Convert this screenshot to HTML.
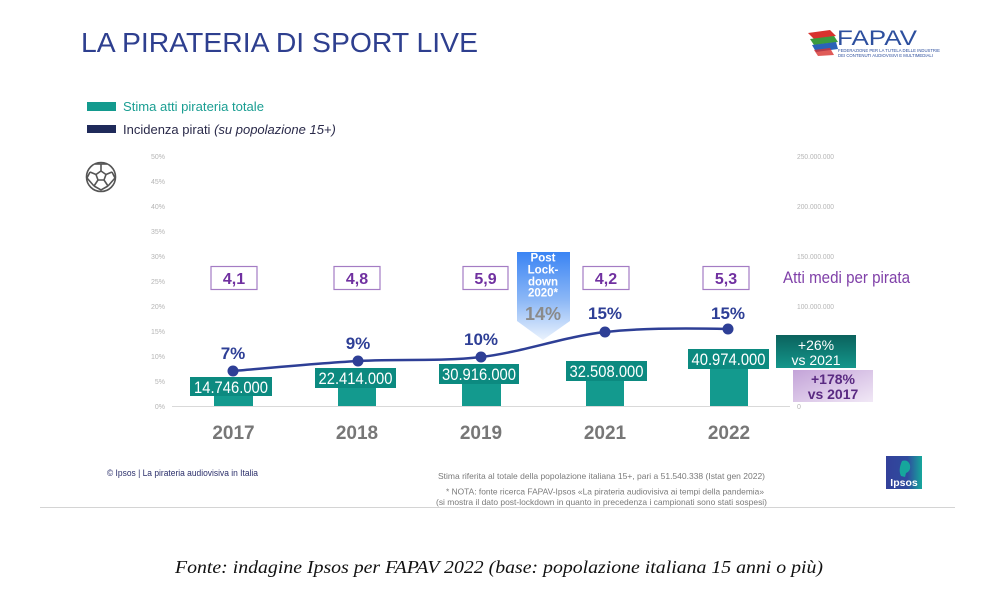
<!DOCTYPE html>
<html><head><meta charset="utf-8"><style>
html,body{margin:0;padding:0;background:#fff;}
svg{display:block;font-family:"Liberation Sans",Arial,sans-serif;}
.serif{font-family:"Liberation Serif","DejaVu Serif",serif;font-style:italic;}
</style></head><body>
<svg width="1000" height="615" viewBox="0 0 1000 615" xmlns="http://www.w3.org/2000/svg">
<defs>
<linearGradient id="gLock" x1="0" y1="0" x2="0" y2="1">
<stop offset="0" stop-color="#3a84f4"/><stop offset="0.55" stop-color="#8db8f6"/><stop offset="1" stop-color="#eaf2fd"/>
</linearGradient>
<linearGradient id="gGreen" x1="0" y1="0" x2="0" y2="1">
<stop offset="0" stop-color="#0b625d"/><stop offset="1" stop-color="#14968b"/>
</linearGradient>
<linearGradient id="gPurp" x1="0" y1="0" x2="1" y2="1">
<stop offset="0" stop-color="#c3a3d8"/><stop offset="1" stop-color="#f1e8f6"/>
</linearGradient>
<linearGradient id="gIpsos" x1="0" y1="0" x2="1" y2="0">
<stop offset="0" stop-color="#33409a"/><stop offset="0.6" stop-color="#2f4c9e"/><stop offset="1" stop-color="#16a79c"/>
</linearGradient>
</defs>

<!-- Title -->
<text x="81" y="52" font-size="28" fill="#2e3f8f" textLength="397" lengthAdjust="spacingAndGlyphs">LA PIRATERIA DI SPORT LIVE</text>

<!-- FAPAV logo -->
<g>
<polygon points="808,33 830,30 836,36 814,39" fill="#d8322e"/>
<polygon points="810,39 834,36 838,42 814,45" fill="#3b9b3e"/>
<polygon points="812,45 836,42 838,49 816,52" fill="#2a62b8"/>
<polygon points="814,50 830,48 834,55 818,56" fill="#d8322e" opacity="0.8"/>
<text x="837" y="45" font-size="21" fill="#2d4f9e" textLength="80" lengthAdjust="spacingAndGlyphs">FAPAV</text>
<text x="838" y="52" font-size="4.6" fill="#2d4f9e" textLength="102" lengthAdjust="spacingAndGlyphs">FEDERAZIONE PER LA TUTELA DELLE INDUSTRIE</text>
<text x="838" y="57" font-size="4.6" fill="#2d4f9e" textLength="95" lengthAdjust="spacingAndGlyphs">DEI CONTENUTI AUDIOVISIVI E MULTIMEDIALI</text>
</g>

<!-- Legend -->
<rect x="87" y="102" width="29" height="9" fill="#139a8e"/>
<text x="123" y="111" font-size="13" fill="#1a9e92" textLength="141" lengthAdjust="spacingAndGlyphs">Stima atti pirateria totale</text>
<rect x="87" y="125" width="29" height="8" fill="#1f2a5a"/>
<text x="123" y="134" font-size="13" fill="#2a2a4a">Incidenza pirati <tspan font-style="italic">(su popolazione 15+)</tspan></text>

<!-- Soccer ball -->
<g stroke="#555" stroke-width="1.6" fill="none">
<circle cx="101" cy="177" r="14.5"/>
<polygon points="101,171 106,174.5 104,180 98,180 96,174.5"/>
<line x1="101" y1="171" x2="101" y2="164"/>
<line x1="106" y1="174.5" x2="112" y2="172"/>
<line x1="104" y1="180" x2="108" y2="186"/>
<line x1="98" y1="180" x2="94" y2="186"/>
<line x1="96" y1="174.5" x2="90" y2="172"/>
<polyline points="95,164 101,164 107,164"/>
<polyline points="112,172 115,178 108,186"/>
<polyline points="90,172 87,178 94,186"/>
<polyline points="94,186 101,190 108,186"/>
</g>

<!-- left axis ticks -->
<g font-size="7" fill="#b5b5b5" text-anchor="end">
<text x="165" y="159">50%</text>
<text x="165" y="184">45%</text>
<text x="165" y="209">40%</text>
<text x="165" y="234">35%</text>
<text x="165" y="259">30%</text>
<text x="165" y="284">25%</text>
<text x="165" y="309">20%</text>
<text x="165" y="334">15%</text>
<text x="165" y="359">10%</text>
<text x="165" y="384">5%</text>
<text x="165" y="409">0%</text>
</g>
<!-- right axis ticks -->
<g font-size="7" fill="#b5b5b5">
<text x="797" y="159" textLength="37" lengthAdjust="spacingAndGlyphs">250.000.000</text>
<text x="797" y="209" textLength="37" lengthAdjust="spacingAndGlyphs">200.000.000</text>
<text x="797" y="259" textLength="37" lengthAdjust="spacingAndGlyphs">150.000.000</text>
<text x="797" y="309" textLength="37" lengthAdjust="spacingAndGlyphs">100.000.000</text>
<text x="797" y="409">0</text>
</g>

<!-- axis line -->
<line x1="172" y1="406.5" x2="790" y2="406.5" stroke="#d9d9d9" stroke-width="1"/>

<!-- bars -->
<g fill="#139a8e">
<rect x="214" y="390" width="39" height="16"/>
<rect x="338" y="383" width="38" height="23"/>
<rect x="462" y="375" width="39" height="31"/>
<rect x="586" y="373" width="38" height="33"/>
<rect x="710" y="365" width="38" height="41"/>
</g>
<!-- bar labels -->
<g fill="#0c8a80">
<rect x="190" y="377" width="82" height="19"/>
<rect x="315" y="368" width="81" height="20"/>
<rect x="439" y="364" width="80" height="20"/>
<rect x="566" y="361" width="81" height="20"/>
<rect x="688" y="349" width="81" height="20"/>
</g>
<g font-size="16.5" fill="#fff" text-anchor="middle">
<text x="231" y="393" textLength="74" lengthAdjust="spacingAndGlyphs">14.746.000</text>
<text x="355.5" y="384" textLength="74" lengthAdjust="spacingAndGlyphs">22.414.000</text>
<text x="479" y="380" textLength="74" lengthAdjust="spacingAndGlyphs">30.916.000</text>
<text x="606.5" y="377" textLength="74" lengthAdjust="spacingAndGlyphs">32.508.000</text>
<text x="728.5" y="365" textLength="74" lengthAdjust="spacingAndGlyphs">40.974.000</text>
</g>

<!-- Post lockdown arrow -->
<polygon points="517,252 570,252 570,321 543,340 517,321" fill="url(#gLock)"/>
<g font-size="11.5" font-weight="bold" fill="#fff" text-anchor="middle">
<text x="543" y="261.5">Post</text>
<text x="543" y="273.5">Lock-</text>
<text x="543" y="285.5">down</text>
<text x="543" y="296.5">2020*</text>
</g>
<text x="543" y="320" font-size="18" font-weight="bold" fill="#8a8a8a" text-anchor="middle">14%</text>

<!-- line -->
<path d="M233,371 C253.8,369.3 316.7,363.3 358,361 C399.3,358.7 439.8,361.8 481,357 C522.2,352.2 563.8,336.7 605,332 C646.2,327.3 707.5,328.5 728,329" fill="none" stroke="#2e3f96" stroke-width="2.5"/>
<g fill="#2e3f96">
<circle cx="233" cy="371" r="5.5"/>
<circle cx="358" cy="361" r="5.5"/>
<circle cx="481" cy="357" r="5.5"/>
<circle cx="605" cy="332" r="5.5"/>
<circle cx="728" cy="329" r="5.5"/>
</g>
<g font-size="17" font-weight="bold" fill="#2e3f96" text-anchor="middle">
<text x="233" y="359">7%</text>
<text x="358" y="349">9%</text>
<text x="481" y="345">10%</text>
<text x="605" y="319">15%</text>
<text x="728" y="319">15%</text>
</g>

<!-- purple boxes -->
<g fill="#fff" stroke="#a47cc4" stroke-width="1.2">
<rect x="211" y="266.5" width="46" height="23"/>
<rect x="334" y="266.5" width="46" height="23"/>
<rect x="463" y="266.5" width="45" height="23"/>
<rect x="583" y="266.5" width="46" height="23"/>
<rect x="703" y="266.5" width="46" height="23"/>
</g>
<g font-size="16" font-weight="bold" fill="#7030a0" text-anchor="middle">
<text x="234" y="284">4,1</text>
<text x="357" y="284">4,8</text>
<text x="485.5" y="284">5,9</text>
<text x="606" y="284">4,2</text>
<text x="726" y="284">5,3</text>
</g>
<text x="783" y="283" font-size="17" fill="#7f3fa8" textLength="127" lengthAdjust="spacingAndGlyphs">Atti medi per pirata</text>

<!-- growth boxes -->
<rect x="776" y="335" width="80" height="33" fill="url(#gGreen)"/>
<g font-size="14" fill="#fff" text-anchor="middle">
<text x="816" y="350">+26%</text>
<text x="816" y="365">vs 2021</text>
</g>
<rect x="793" y="370" width="80" height="32" fill="url(#gPurp)"/>
<g font-size="14" font-weight="bold" fill="#5a2a82" text-anchor="middle">
<text x="833" y="384">+178%</text>
<text x="833" y="399">vs 2017</text>
</g>

<!-- years -->
<g font-size="19" font-weight="bold" fill="#777777" text-anchor="middle">
<text x="233.5" y="439">2017</text>
<text x="357" y="439">2018</text>
<text x="481" y="439">2019</text>
<text x="605" y="439">2021</text>
<text x="729" y="439">2022</text>
</g>

<!-- footer -->
<text x="107" y="476" font-size="9" fill="#2b2f6b" textLength="151" lengthAdjust="spacingAndGlyphs">© Ipsos | La pirateria audiovisiva in Italia</text>
<g font-size="8.5" fill="#7a7a7a">
<text x="438" y="479" textLength="327" lengthAdjust="spacingAndGlyphs">Stima riferita al totale della popolazione italiana 15+, pari a 51.540.338 (Istat gen 2022)</text>
<text x="446" y="494.5" textLength="318" lengthAdjust="spacingAndGlyphs">* NOTA: fonte ricerca FAPAV-Ipsos «La pirateria audiovisiva ai tempi della pandemia»</text>
<text x="436" y="505" textLength="331" lengthAdjust="spacingAndGlyphs">(si mostra il dato post-lockdown in quanto in precedenza i campionati sono stati sospesi)</text>
</g>
<rect x="886" y="456" width="36" height="33" fill="url(#gIpsos)"/>
<path d="M902,461 q6,-2 8,4 q1,6 -4,8 l-1,4 l-4,-1 q-3,-6 1,-15z" fill="#16a79c"/>
<text x="904" y="486" font-size="10.5" font-weight="bold" fill="#fff" text-anchor="middle">Ipsos</text>

<line x1="40" y1="507.5" x2="955" y2="507.5" stroke="#d4d4d4" stroke-width="1"/>

<!-- caption -->
<text class="serif" x="175" y="573" font-size="18" fill="#111" textLength="648" lengthAdjust="spacingAndGlyphs">Fonte: indagine Ipsos per FAPAV 2022 (base: popolazione italiana 15 anni o più)</text>
</svg>
</body></html>
